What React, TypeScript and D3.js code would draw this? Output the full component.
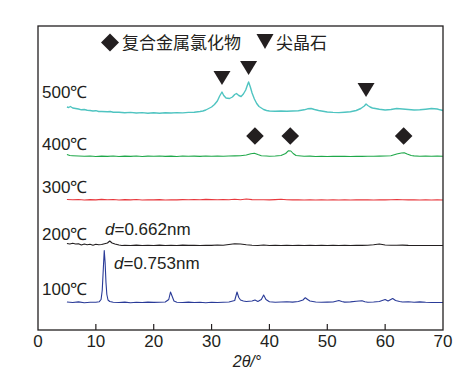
import React from "react";
import * as d3 from "d3";

const xTicks = [0, 10, 20, 30, 40, 50, 60, 70];
const seriesLabels = ["500℃", "400℃", "300℃", "200℃", "100℃"];
const seriesColors = ["#4fc4c1", "#1fa84a", "#e8383d", "#231f20", "#2a3b98"];
const seriesOffsets = [217, 173.5, 130, 84.5, 27.5];

const s500: [number, number][] = [
  [5, 6], [5.3, 5.5], [5.6, 6.5], [6, 5], [6.5, 4.5], [7, 4], [7.5, 3.2], [8, 3.5], [8.5, 2.8], [9, 2.5], [9.5, 2], [10, 2.3],
  [10.5, 1.5], [11, 1.5], [12, 1.2], [12.5, 1.5], [13, 0.8], [14, 0.8], [15, 0.2], [16, 0.6], [17, 0], [18, 0.4], [19, -0.2],
  [20, 0.2], [21, -0.3], [22, 0.3], [23, 0], [24, 0.4], [25, 0.1], [26, 0.6], [27, 0.8], [28, 1.5], [28.5, 2], [29, 3],
  [29.5, 4.5], [30, 6], [30.5, 8.5], [31, 12], [31.4, 17], [31.8, 21], [32.1, 17.5], [32.5, 15], [33.1, 14.5], [33.6, 16],
  [34, 18.5], [34.3, 19.5], [34.7, 17.5], [35.1, 16.5], [35.5, 19], [35.9, 23], [36.2, 28], [36.4, 31], [36.7, 26], [37, 20],
  [37.4, 14], [37.8, 9.5], [38.2, 6.5], [38.6, 5], [39, 3.5], [39.5, 2.5], [40, 2], [41, 1.8], [42, 2], [43, 1.7], [44, 2],
  [45, 2.3], [46, 3.2], [46.6, 4.2], [47.2, 4.5], [47.8, 3.5], [48.5, 2.5], [49, 2], [50, 1], [51, 0.6], [52, 0.4], [53, 0.8],
  [54, 1.2], [55, 2.5], [55.8, 4.5], [56.4, 7], [56.7, 9], [57, 7.5], [57.4, 6], [57.8, 5], [58.3, 4.5], [59, 3.8], [60, 3],
  [61, 3.5], [62, 4.5], [63, 4], [64, 3.5], [65, 3], [66, 3.2], [67, 3.8], [68, 4.5], [69, 4], [69.5, 3.2], [70, 2.5],
];

const s400: [number, number][] = [
  [5, 2], [5.5, 1], [6, 0.8], [7, 0.5], [8, 0.2], [9, 0.5], [10, 0], [11, 0.4], [12, 0.1], [13, 0.5], [14, 0], [15, 0.4],
  [16, 0.1], [17, 0.5], [18, 0], [19, 0.4], [20, 0.2], [21, 0.5], [22, 0.1], [23, 0.4], [24, 0], [25, 0.5], [26, 0.2],
  [27, 0.4], [28, 0.1], [29, 0.5], [30, 0.2], [31, 0.4], [32, 0.3], [33, 0.5], [34, 0.6], [35, 0.8], [36, 1.5], [36.8, 2.8],
  [37.4, 3.3], [38, 2], [38.6, 0.8], [39.5, 0.5], [40, 0.2], [41, 0.5], [42, 1], [42.8, 3], [43.3, 5.8], [43.7, 5.5],
  [44.1, 3], [44.6, 1], [45.5, 0.5], [46, 0.2], [47, 0.4], [48, 0], [49, 0.3], [50, 0], [51, 0.3], [52, 0.1], [53, 0.3],
  [54, 0], [55, 0.3], [56, 0.1], [57, 0.3], [58, 0.2], [59, 0.4], [60, 0.5], [61, 0.8], [62, 2.5], [62.8, 3.5], [63.3, 3.8],
  [63.8, 2.5], [64.5, 1], [65, 0.6], [66, 0.3], [67, 0.5], [68, 0.2], [69, 0.4], [70, 0.3],
];

const s300: [number, number][] = [
  [5, 0.5], [6, 0.2], [7, 0.5], [8, 0], [9, 0.4], [10, 0.1], [11, 0.6], [12, 0.2], [13, 0.5], [14, 0], [15, 0.4], [16, 0.1],
  [17, 0.5], [18, 0], [19, 0.3], [20, 0.1], [21, 0.4], [22, 0], [23, 0.3], [24, 0.1], [25, 0.4], [26, 0.2], [27, 0.5],
  [28, 0.3], [29, 0.6], [30, 0.4], [31, 0.2], [32, 0.5], [33, 0.3], [34, 0.8], [35, 0.3], [36, 1], [37, 0.4], [38, 0.2],
  [39, 0.3], [40, 0.1], [41, 0.4], [42, 0.8], [43, 0.2], [44, 0.1], [45, 0.3], [46, 0], [47, 0.2], [48, 0], [49, 0.3],
  [50, 0], [51, 0.2], [52, 0], [53, 0.2], [54, 0], [55, 0.3], [56, 0.1], [57, 0.2], [58, 0], [59, 0.3], [60, 0.1], [61, 0.2],
  [62, 0.5], [63, 0.3], [64, 0.1], [65, 0.2], [66, 0], [67, 0.2], [68, 0], [69, 0.1], [70, 0],
];

const s200: [number, number][] = [
  [5, 2], [5.5, 1.5], [6, 2.2], [6.5, 1.5], [7, 1.8], [7.5, 0.5], [8, 1.5], [8.5, 0.8], [9, 1.2], [9.5, 0.3], [10, 1.2],
  [10.5, 0.8], [11, 1], [11.5, 1.8], [12, 2.5], [12.4, 4.5], [12.8, 2.5], [13.3, 1.5], [14, 0.5], [14.5, 0], [15, 0.3],
  [16, 0], [17, 0.4], [18, 0], [19, 0.3], [20, 0], [21, 0.4], [22, 0], [23, 0.3], [24, 0], [25, 0.4], [26, 0.1], [27, 0.3],
  [28, 0], [29, 0.3], [30, 0.1], [31, 0.5], [32, 0.2], [33, 1], [34, 1.8], [35, 1.5], [36, 0.8], [37, 0.3], [38, 0],
  [39, 0.5], [40, 0], [41, 0.3], [42, 0], [43, 0.3], [44, 0], [45, 0.2], [46, 0], [47, 0.3], [48, 0], [49, 0.2], [50, 0],
  [51, 0.3], [52, 0], [53, 0.2], [54, 0], [55, 0.3], [56, 0.1], [57, 0.3], [58, 0.8], [59, 1.5], [59.5, 1], [60, 0.5],
  [61, 0.3], [62, 0.2], [63, 0.4], [64, 0.1], [65, 0], [70, 0],
];

const s100: [number, number][] = [
  [5, 0.5], [6, 0], [7, 0.6], [8, -0.2], [9, 0.3], [10, 0.2], [10.6, 0.8], [10.9, 3], [11.1, 12], [11.3, 35], [11.45, 52],
  [11.6, 40], [11.75, 20], [11.9, 8], [12.1, 2.5], [12.4, 1], [13, 0.3], [14, 0], [15, 0.4], [16, -0.2], [17, 0.3], [18, 0],
  [19, 0.4], [20, 0.1], [21, 0.3], [22, 0.5], [22.6, 3], [22.9, 10.5], [23.2, 6], [23.5, 1.5], [24, 0.3], [25, 0], [26, 0.4],
  [27, 0], [28, 0.3], [29, -0.2], [30, 0.3], [31, 0], [32, 0.2], [33, 0.5], [34, 2], [34.4, 10.5], [34.7, 5], [35, 2.5],
  [35.5, 1.5], [36, 1], [37, 1.5], [37.5, 2.5], [38, 1], [38.6, 3], [39, 7.5], [39.4, 3], [40, 0.8], [41, 0.3], [42, 0.5],
  [43, 0.8], [44, 0.4], [45, 1], [45.8, 2.5], [46.2, 4.8], [46.6, 3], [47, 1.5], [48, 0.5], [49, 0.3], [50, 0.4], [51, 0.5],
  [52, 2], [52.5, 1], [53, 0.4], [54, 0.6], [55, 1.2], [56, 1.8], [56.5, 0.8], [57, 0.3], [58, 0.5], [59, 1], [60, 3],
  [60.5, 1.5], [61.3, 4], [61.8, 2], [62.5, 1], [63, 0.5], [64, 0.8], [65, 0.3], [66, 0.6], [67, 0.2], [68, 0], [70, 0],
];

const seriesData = [s500, s400, s300, s200, s100];

// spinel (尖晶石) peaks on the 500℃ pattern: [2θ, intensity]
const spinelPeaks: [number, number][] = [[31.8, 21], [36.4, 31], [56.7, 9]];
// composite metal chloride peaks on the 400℃ pattern
const chloridePeaks = [37.5, 43.6, 63.2];

const legendItems = ["复合金属氯化物", "尖晶石"];
const dLabels = ["d=0.662nm", "d=0.753nm"];

export default function App() {
  const W = 468, H = 381;
  const left = 38, right = 443, top = 26, bottom = 330;
  const x = d3.scaleLinear().domain([0, 70]).range([left, right]);
  const y = d3.scaleLinear().domain([0, 304]).range([bottom, top]);
  const ink = "#231f20";
  const numFont = "'Liberation Sans', Arial, sans-serif";
  const cjkFont = "'Noto Sans CJK SC', sans-serif";

  const labelY = [98, 150, 193, 240, 295];

  const tri = (cx: number, tipY: number, w: number, h: number) =>
    `M${cx - w / 2},${tipY - h}L${cx + w / 2},${tipY - h}L${cx},${tipY}Z`;
  const dia = (cx: number, cy: number, r: number) =>
    `M${cx},${cy - r}L${cx + r},${cy}L${cx},${cy + r}L${cx - r},${cy}Z`;

  return (
    <svg width={W} height={H} style={{ position: "absolute", left: 0, top: 0, background: "#fff" }}>
      {seriesData.map((data, i) => {
        const line = d3
          .line<[number, number]>()
          .x((d) => x(d[0]))
          .y((d) => y(seriesOffsets[i] + d[1]));
        return (
          <path key={i} d={line(data) || ""} fill="none" stroke={seriesColors[i]} strokeWidth={i === 0 ? 1.4 : 1.1} strokeLinejoin="round" />
        );
      })}

      {spinelPeaks.map(([a, v], i) => (
        <path key={"t" + i} d={tri(x(a), y(seriesOffsets[0] + v) - 7, 17, 14)} fill={ink} />
      ))}
      {chloridePeaks.map((a, i) => (
        <path key={"d" + i} d={dia(x(a), 136, 8.8)} fill={ink} />
      ))}

      {/* legend */}
      <path d={dia(110, 42.5, 9)} fill={ink} />
      <text x={122} y={48.5} fontFamily={cjkFont} fontSize={17} fill={ink}>{legendItems[0]}</text>
      <path d={tri(265, 49, 17, 15)} fill={ink} />
      <text x={276} y={48.5} fontFamily={cjkFont} fontSize={17} fill={ink}>{legendItems[1]}</text>

      {seriesLabels.map((s, i) => (
        <text key={s} x={42} y={labelY[i]} fontFamily={numFont} fontSize={17} fill={ink}>{s}</text>
      ))}

      <text x={105} y={235} fontFamily={numFont} fontSize={17} fill={ink}>
        <tspan fontStyle="italic">{dLabels[0].slice(0, 1)}</tspan>{dLabels[0].slice(1)}
      </text>
      <text x={114} y={269} fontFamily={numFont} fontSize={17} fill={ink}>
        <tspan fontStyle="italic">{dLabels[1].slice(0, 1)}</tspan>{dLabels[1].slice(1)}
      </text>

      <rect x={left} y={top} width={right - left} height={bottom - top} fill="none" stroke={ink} strokeWidth={1.3} />
      {xTicks.map((t) => (
        <g key={t}>
          {t > 0 && t < 70 && <line x1={x(t)} x2={x(t)} y1={bottom} y2={bottom - 6} stroke={ink} strokeWidth={1.2} />}
          <text x={x(t)} y={347} textAnchor="middle" fontFamily={numFont} fontSize={17} fill={ink}>{t}</text>
        </g>
      ))}
      <text x={247} y={366.5} textAnchor="middle" fontFamily={numFont} fontSize={16} fontStyle="italic" fill={ink}>
        2θ/°
      </text>
    </svg>
  );
}
